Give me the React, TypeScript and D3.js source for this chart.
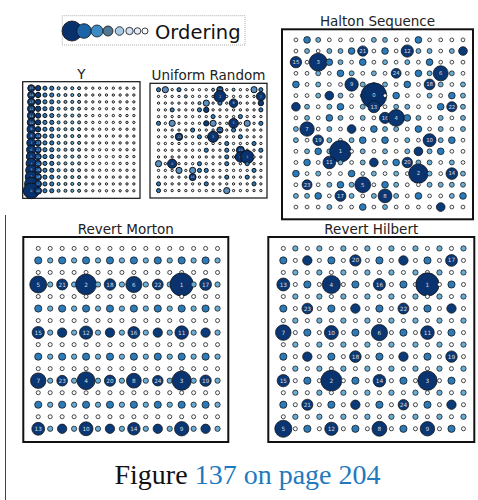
import React from "react";
import * as d3 from "d3";

const W = 478;
const H = 500;

// each row of a panel, top to bottom: a number is the order index (labelled),
// a letter is an unlabelled point whose index falls in a band
const bandRanks: Record<string, number> = { a: 28, b: 50, c: 100, d: 200, e: 22 };

const yRows = [
  "15 a b b c c c c d d d d d d d d",
  "14 a b b c c c c d d d d d d d d",
  "13 a b b c c c c d d d d d d d d",
  "12 a b b c c c c d d d d d d d d",
  "11 a b b c c c c d d d d d d d d",
  "10 a b b c c c c d d d d d d d d",
  "9 a b b c c c c d d d d d d d d",
  "8 24 b b c c c c d d d d d d d d",
  "7 23 b b c c c c d d d d d d d d",
  "6 22 b b c c c c d d d d d d d d",
  "5 21 b b c c c c d d d d d d d d",
  "4 20 b b c c c c d d d d d d d d",
  "3 19 b b c c c c d d d d d d d d",
  "2 18 b b c c c c d d d d d d d d",
  "1 17 b b c c c c d d d d d d d d",
  "0 16 b b c c c c d d d d d d d d",
];

const randomRows = [
  "b e d b d d d d c 20 d c d d e b",
  "d d d d c d d d d 2 d d d d d 7",
  "d d d d d d c e d b d 8 d d d a",
  "d d b d d d b a d d d d d d d b",
  "d d d d d d d d b d d d b d d d",
  "b d e d d d d a e d d 5 d e d b",
  "d d d d d b d d d 22 d b d d d d",
  "d d d 13 d d b d 3 d d d b d d d",
  "d d d d d d d d d d b d d d b d",
  "d d d d d d d b d d b d 10 d d b",
  "d d d d d d d d d d b d 4 1 d d",
  "e d 6 d d d b d d d b d d b d d",
  "d d d e d e b b d d d d d d b d",
  "d d d d d 16 d d d d b d d b d d",
  "b d d d d d d b d d d d d d b d",
  "b d d d d d d d d d e d d d d d",
];

const haltonRows = [
  "d b c d d d d c c d d b d d d d",
  "d c d c c b 21 d b d 12 c c d c a",
  "15 d 3 b c d b d c d c d b d d d",
  "d d c d b c d c d 24 d b c 6 c d",
  "b d c d d 9 c d c d b d 18 c d c",
  "d d c a c d c 0 d b d d c d b c",
  "a c d c b d c 13 d c c d d b 22 c",
  "d c d b c d c d 16 4 b c d c d c",
  "c 7 d c d a d b c c d b d c d c",
  "c d 19 c d c b d b d c d 10 c b d",
  "d c b c 1 d c d c d c a c b d d",
  "d b d 11 c d c a c b 20 c c d c d",
  "b d c d d b d c d c d 2 c d 14 c",
  "d 23 d c b c 5 d b c d d c c c c",
  "c c b d 17 c d c 8 c d b d d c b",
  "d d d c d d b d c d d d d a d d",
];

const mortonRows = [
  "d d d d d d d d d d d d d d d d",
  "b c b c b c b c b c b c b c b c",
  "d d d d d d d d d d d d d d d d",
  "5 c 21 c 2 c 18 c 6 c 22 c 1 c 17 c",
  "d d d d d d d d d d d d d d d d",
  "b c b c b c b c b c b c b c b c",
  "d d d d d d d d d d d d d d d d",
  "15 c a c 12 c a c 16 c a c 11 c a c",
  "d d d d d d d d d d d d d d d d",
  "b c b c b c b c b c b c b c b c",
  "d d d d d d d d d d d d d d d d",
  "7 c 23 c 4 c 20 c 8 c 24 c 3 c 19 c",
  "d d d d d d d d d d d d d d d d",
  "b c b c b c b c b c b c b c b c",
  "d d d d d d d d d d d d d d d d",
  "13 c a c 10 c a c 14 c a c 9 c a c",
];

const hilbertRows = [
  "d c d c d c d c d c d c d c d c",
  "b d a d b d 20 d b d a d b d 17 d",
  "d c d c d c d c d c d c d c d c",
  "13 d b d 4 d b d 16 d b d 1 d b d",
  "d c d c d c d c d c d c d c d c",
  "b d 23 d b d a d b d 22 d b d a d",
  "d c d c d c d c d c d c d c d c",
  "7 d b d 10 d b d 6 d b d 11 d b d",
  "d c d c d c d c d c d c d c d c",
  "b d a d b d 18 d b d a d b d 19 d",
  "d c d c d c d c d c d c d c d c",
  "15 d b d 2 d b d 14 d b d 3 d b d",
  "d c d c d c d c d c d c d c d c",
  "b d 21 d b d a d b d 24 d b d a d",
  "d c d c d c d c d c d c d c d c",
  "5 d b d 12 d b d 8 d b d 9 d b d",
];

const titles = ["Y", "Uniform Random", "Halton Sequence", "Revert Morton", "Revert Hilbert"];
const legendLabel = "Ordering";
const captionLead = "Figure";
const captionLink = "137 on page 204";

// layout
const boxes = [
  [22.7, 81.7, 140, 198.3],
  [150, 83.3, 267, 198],
  [282, 29.3, 473, 219.3],
  [23.3, 237, 228.3, 442],
  [268.3, 237, 474.3, 442],
];
const frameWidths = [1.2, 1.2, 2, 2, 2];
const dotStrokes = [1, 1, 0.75, 0.75, 0.75];
const panelRows = [yRows, randomRows, haltonRows, mortonRows, hilbertRows];

const FADED = "#5a8fc0";
const radiusRatio = d3
  .scaleLog()
  .domain([1, 2, 3, 5, 9, 17, 25, 29, 51, 101, 201])
  .range([1.15, 0.97, 0.87, 0.75, 0.62, 0.5, 0.44, 0.39, 0.3, 0.22, 0.17])
  .clamp(true);
const fillScale = d3
  .scaleLog<string>()
  .domain([1, 30, 40, 51, 101, 201])
  .range(["#08306b", "#0b3a78", "#1a5c9f", "#2b7bba", "#6aaed6", "#f7fbff"])
  .clamp(true);

const LEGEND_COLORS = ["#08306b", "#1c64a8", "#3c8bc5", "#4f7894", "#a6c9e4", "#cfe1f2", "#e6eff9", "#f7fbff"];
const LEGEND_X = [72, 84, 97, 108, 119.5, 129.5, 137.5, 145];
const LEGEND_R = [10, 7.3, 6, 5, 4.3, 3.7, 3.3, 3];

const Panel = ({ rows, box, title, frame, dotStroke }) => {
  const [x0, y0, x1, y1] = box;
  const x = d3.scaleLinear().domain([-1.25, 15.9]).range([x0, x1]);
  const y = d3.scaleLinear().domain([-1.1, 15.95]).range([y1, y0]);
  const s = x(1) - x(0);
  const cells = [];
  rows.forEach((row, r) => {
    row.trim().split(/\s+/).forEach((tok, c) => {
      const labelled = /^\d+$/.test(tok);
      const rank = labelled ? +tok : bandRanks[tok];
      cells.push({ r, c, tok, labelled, rank });
    });
  });
  return (
    <g>
      <text
        x={(x0 + x1) / 2}
        y={y0 - 3}
        textAnchor="middle"
        fontFamily="DejaVu Sans"
        fontSize={13.5}
        fill="#222"
      >
        {title}
      </text>
      <rect
        x={x0}
        y={y0}
        width={x1 - x0}
        height={y1 - y0}
        fill="white"
        stroke="#111"
        strokeWidth={frame}
      />
      {cells.map((d, i) => (
        <g key={i}>
          <circle
            cx={x(d.c)}
            cy={y(15 - d.r)}
            r={radiusRatio(d.rank + 1) * s}
            fill={d.tok === "e" ? FADED : fillScale(d.rank + 1)}
            stroke="#111"
            strokeWidth={dotStroke}
          />
          {d.labelled && (
            <text
              x={x(d.c)}
              y={y(15 - d.r)}
              dy="0.35em"
              textAnchor="middle"
              fontFamily="DejaVu Sans"
              fontSize={0.48 * s}
              fill="#dcdcdc"
            >
              {d.tok}
            </text>
          )}
        </g>
      ))}
    </g>
  );
};

export default function App() {
  return (
    <svg
      width={W}
      height={H}
      style={{ position: "absolute", left: 0, top: 0, background: "white" }}
    >
      <line x1={5.5} x2={5.5} y1={215} y2={H} stroke="#444" strokeWidth={1} />
      <rect
        x={62.3}
        y={15.7}
        width={182.7}
        height={29.3}
        fill="white"
        stroke="#999"
        strokeWidth={0.8}
        strokeDasharray="1,1"
      />
      {LEGEND_COLORS.map((col, i) => (
        <circle
          key={i}
          cx={LEGEND_X[i]}
          cy={31}
          r={LEGEND_R[i]}
          fill={col}
          stroke="#111"
          strokeWidth={0.8}
        />
      ))}
      <text x={155} y={38.5} fontFamily="DejaVu Sans" fontSize={19.5} fill="#111">
        {legendLabel}
      </text>
      {panelRows.map((rows, i) => (
        <Panel
          key={i}
          rows={rows}
          box={boxes[i]}
          title={titles[i]}
          frame={frameWidths[i]}
          dotStroke={dotStrokes[i]}
        />
      ))}
      <text
        x={247.5}
        y={484}
        textAnchor="middle"
        fontFamily="Liberation Serif"
        fontSize={28}
      >
        <tspan fill="#111">{captionLead} </tspan>
        <tspan fill="#2379bd">{captionLink}</tspan>
      </text>
    </svg>
  );
}
